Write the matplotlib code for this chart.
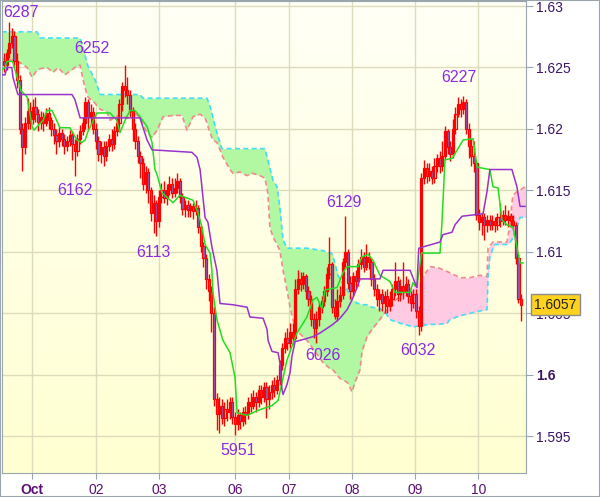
import numpy as np
import matplotlib.pyplot as plt
from matplotlib.patches import Rectangle

plt.rcParams['font.family'] = ['Liberation Sans', 'DejaVu Sans']

# hourly candles, values in pips above 1.6000
opens = [255, 252, 262, 270, 276, 255, 240, 200, 185, 205,
         215, 208, 218, 212, 206, 210, 205, 213, 207, 200,
         195, 190, 197, 192, 186, 190, 195, 188, 182, 192,
         198, 205, 222, 210, 214, 200, 190, 180, 185, 178,
         186, 192, 188, 198, 205, 220, 235, 232, 228, 215,
         200, 190, 178, 172, 155, 165, 150, 132, 140, 125,
         145, 150, 144, 150, 155, 148, 152, 158, 145, 135,
         138, 134, 137, 133, 136, 120, 105, 95, 78, 68,
         50, -20, -32, -25, -35, -28, -30, -22, -34, -40,
         -33, -38, -30, -32, -22, -25, -18, -22, -12, -18,
         -10, -20, -14, -8, -12, -4, 8, 22, 30, 26,
         35, 30, 70, 78, 74, 80, 68, 62, 45, 38,
         45, 55, 60, 68, 82, 90, 55, 48, 60, 65,
         92, 100, 75, 68, 80, 76, 90, 96, 88, 96,
         92, 78, 70, 62, 66, 58, 64, 56, 62, 70,
         76, 66, 72, 68, 74, 64, 58, 66, 52, 40,
         160, 168, 162, 166, 160, 170, 176, 170, 178, 198,
         185, 180, 200, 212, 220, 216, 222, 200, 186, 178,
         172, 130, 124, 128, 122, 126, 122, 125, 122, 128,
         125, 130, 126, 129, 125, 122, 95, 62]
highs = [262, 265, 287, 282, 280, 262, 244, 205, 210, 225,
         222, 224, 226, 216, 215, 214, 217, 218, 210, 205,
         200, 202, 200, 196, 194, 199, 198, 192, 196, 203,
         210, 226, 224, 220, 218, 205, 194, 190, 190, 190,
         196, 200, 202, 210, 224, 238, 252, 242, 232, 218,
         205, 194, 182, 176, 170, 168, 153, 146, 142, 150,
         156, 158, 155, 162, 160, 160, 164, 160, 148, 142,
         142, 140, 140, 142, 138, 122, 108, 98, 82, 72,
         55, -15, -18, -20, -22, -20, -18, -18, -30, -28,
         -30, -26, -25, -18, -15, -12, -14, -8, -8, -6,
         -6, -8, -4, -2, 0, 12, 26, 35, 38, 42,
         42, 78, 85, 84, 84, 82, 72, 65, 50, 52,
         58, 64, 72, 88, 112, 92, 62, 70, 72, 95,
         129, 102, 80, 84, 85, 94, 102, 100, 106, 100,
         95, 82, 74, 70, 70, 68, 70, 68, 74, 92,
         80, 78, 92, 80, 78, 68, 70, 70, 56, 164,
         175, 172, 172, 170, 176, 180, 182, 190, 202, 200,
         190, 208, 218, 226, 224, 227, 224, 205, 192, 190,
         175, 135, 132, 132, 130, 130, 130, 128, 132, 140,
         134, 138, 134, 132, 130, 124, 98, 66]
lows = [246, 248, 258, 266, 250, 233, 196, 166, 180, 200,
        200, 204, 206, 198, 200, 198, 202, 200, 194, 188,
        180, 185, 186, 180, 182, 186, 175, 162, 178, 188,
        195, 200, 200, 204, 196, 184, 174, 172, 170, 174,
        182, 182, 184, 194, 200, 215, 226, 220, 210, 190,
        184, 172, 160, 150, 148, 140, 125, 115, 113, 120,
        140, 140, 138, 146, 144, 145, 148, 140, 130, 128,
        128, 128, 127, 130, 115, 100, 88, 70, 60, 35,
        -25, -45, -47, -40, -42, -38, -36, -40, -49, -45,
        -44, -42, -40, -36, -30, -28, -30, -26, -24, -22,
        -35, -28, -20, -18, -16, -8, 4, 18, 20, 22,
        25, 28, 66, 68, 70, 62, 56, 40, 30, 26,
        40, 50, 56, 64, 78, 50, 45, 44, 55, 62,
        88, 70, 62, 64, 70, 72, 86, 84, 85, 86,
        72, 64, 56, 52, 52, 50, 50, 52, 56, 64,
        60, 60, 62, 64, 58, 52, 54, 46, 32, 36,
        155, 156, 158, 155, 156, 165, 164, 166, 175, 180,
        174, 176, 196, 210, 210, 212, 196, 176, 170, 165,
        126, 118, 114, 110, 116, 118, 118, 116, 118, 120,
        122, 122, 120, 120, 118, 90, 58, 44]
closes = [252, 262, 270, 276, 255, 240, 200, 185, 205, 215,
          208, 218, 212, 206, 210, 205, 213, 207, 200, 195,
          190, 197, 192, 186, 190, 195, 188, 182, 192, 198,
          205, 222, 210, 214, 200, 190, 180, 185, 178, 186,
          192, 188, 198, 205, 220, 235, 232, 228, 215, 200,
          190, 178, 172, 155, 165, 150, 132, 140, 125, 145,
          150, 144, 150, 155, 148, 152, 158, 145, 135, 138,
          134, 137, 133, 136, 120, 105, 95, 78, 68, 50,
          -20, -32, -25, -35, -28, -30, -22, -34, -40, -33,
          -38, -30, -32, -22, -25, -18, -22, -12, -18, -10,
          -20, -14, -8, -12, -4, 8, 22, 30, 26, 35,
          30, 70, 78, 74, 80, 68, 62, 45, 38, 45,
          55, 60, 68, 82, 90, 55, 48, 60, 65, 92,
          100, 75, 68, 80, 76, 90, 96, 88, 96, 92,
          78, 70, 62, 66, 58, 64, 56, 62, 70, 76,
          66, 72, 68, 74, 64, 58, 66, 52, 40, 160,
          168, 162, 166, 160, 170, 176, 170, 178, 198, 185,
          180, 200, 212, 220, 216, 222, 200, 186, 178, 172,
          130, 124, 128, 122, 126, 122, 125, 122, 128, 125,
          130, 126, 129, 125, 122, 95, 62, 57]

# tenkan (green) and kijun (purple) vertices: bar position, pips
tenkan_x = [-0.8, 0.4, 1.1, 3.0, 3.4, 6.5, 8.8, 10.7, 11.4, 14.9, 16.4, 18.3, 19.4, 21.3, 25.1,
            27.8, 29.7, 30.9, 32.0, 35.4, 40.4, 43.0, 44.2, 46.1, 48.0, 49.9, 51.8, 54.5, 56.4,
            57.5, 58.3, 60.2, 64.4, 67.0, 72.0, 73.9, 75.4, 76.6, 78.5, 79.2, 79.6, 81.1, 83.4,
            86.1, 88.0, 88.8, 92.6, 96.7, 102.1, 104.4, 107.8, 111.6, 115.4, 117.7, 119.2, 121.1,
            122.3, 126.9, 129.1, 130.7, 134.9, 136.4, 138.7, 140.6, 143.2, 147.0, 149.0, 154.7,
            155.8, 157.3, 159.0, 166.1, 166.9, 168.0, 170.7, 174.9, 178.7, 180.2, 182.5, 185.1,
            186.3, 188.2, 189.7, 191.6, 193.9, 196.6, 197.7]
tenkan_v = [248, 250, 255, 255, 254, 231, 226, 202, 199, 207, 215, 215, 210, 201, 201,
            191, 189, 191, 198, 213, 213, 207, 197, 207, 215, 215, 210, 202, 189,
            167, 163, 148, 140, 146, 142, 132, 120, 106, 99, 85, 67, 45, 28,
            18, -2, -31, -33, -29, -25, -21, 12, 34, 47, 61, 63, 54,
            69, 71, 83, 88, 88, 96, 98, 93, 81, 76, 67, 67,
            75, 71, 99, 99, 126, 175, 176, 191, 192, 169, 168, 167,
            153, 152, 126, 122, 120, 91, 91]
kijun_x = [-0.8, 0.4, 1.1, 3.0, 3.4, 5.3, 25.9, 27.0, 28.2, 29.0, 51.8, 54.5, 56.4, 71.6,
           73.5, 74.7, 76.6, 77.7, 79.2, 81.1, 82.3, 87.2, 92.6, 93.7, 98.7, 100.2, 100.6, 102.1,
           104.4, 105.1, 105.9, 106.3, 107.8, 109.0, 109.7, 110.9, 112.8, 117.7, 120.4, 125.3,
           128.0, 130.7, 132.6, 134.5, 135.6, 143.2, 144.4, 154.7, 155.8, 157.3, 158.0, 166.1,
           167.2, 170.7, 171.8, 174.5, 182.5, 184.0, 185.1, 193.5, 195.4, 196.6, 198.5]
kijun_v = [244, 244, 250, 250, 242, 228, 228, 224, 215, 209, 209, 191, 183, 181,
           177, 167, 128, 124, 104, 85, 58, 57, 55, 47, 46, 37, 28, 19,
           18, 10, -12, -16, -8, 2, 15, 27, 28, 31, 34, 41,
           46, 53, 61, 71, 78, 78, 85, 85, 79, 71, 103, 108,
           114, 116, 122, 129, 131, 149, 167, 167, 153, 137, 137]

# cloud edges read at shared positions
cloud_x = [-0.8, 0.4, 3.4, 6.1, 8.8, 10.7, 12.6, 13.7, 16.4, 18.7,
           20.6, 23.2, 24.4, 27.0, 29.0, 30.1, 31.6, 32.0, 34.7, 35.4,
           36.6, 39.2, 40.4, 43.4, 46.9, 48.8, 51.8, 52.9, 54.5, 56.4,
           58.3, 60.6, 64.4, 67.8, 69.7, 72.0, 74.7, 76.6, 77.3, 77.7,
           78.5, 79.2, 79.6, 81.1, 82.3, 83.0, 83.4, 86.1, 87.2, 89.9,
           92.6, 94.5, 97.5, 99.4, 100.5, 101.3, 102.5, 104.0, 105.1, 106.3,
           107.8, 109.0, 110.9, 113.9, 115.4, 118.5, 121.5, 124.7, 125.3, 127.2,
           128.0, 130.7, 131.0, 132.6, 133.7, 134.5, 135.6, 136.4, 138.3, 140.2,
           143.2, 145.5, 147.0, 148.2, 150.9, 155.8, 159.0, 162.3, 165.5, 168.8,
           169.9, 173.7, 177.5, 181.3, 184.0, 184.4, 185.1, 186.3, 187.0, 191.6,
           192.8, 193.5, 193.9, 195.4, 196.6, 198.9]
span_a = [258, 256, 256, 254, 250, 242, 248, 249, 250, 246,
          250, 244, 246, 250, 252, 240, 228, 226, 221, 219,
          216, 214, 207, 211, 209, 215, 209, 204, 197, 193,
          199, 210, 211, 211, 199, 210, 212, 209, 205, 202,
          197, 193, 191, 189, 183, 179, 177, 167, 164, 165,
          162, 164, 162, 160, 148, 120, 112, 106, 101, 85,
          69, 55, 37, 31, 28, 19, 10, 4, 4, -1,
          -3, -6, -7, -14, -6, -2, 4, 19, 31, 37,
          45, 52, 57, 59, 64, 71, 78, 88, 87, 84,
          83, 79, 79, 81, 80, 103, 105, 108, 108, 108,
          122, 140, 146, 149, 150, 154]
span_b = [279, 279, 279, 279, 279, 279, 279, 274, 274, 274,
          274, 274, 274, 274, 274, 266, 254, 251, 240, 236,
          228, 228, 228, 228, 228, 228, 228, 225, 225, 225,
          225, 225, 225, 225, 225, 225, 225, 225, 225, 223,
          218, 213, 209, 197, 189, 184, 184, 184, 184, 184,
          184, 184, 184, 184, 175, 168, 158, 153, 136, 110,
          103, 103, 103, 103, 103, 102, 101, 99, 97, 81,
          78, 69, 68, 61, 60, 58, 58, 57, 57, 55,
          54, 50, 45, 44, 42, 39, 40, 41, 41, 42,
          45, 48, 50, 52, 53, 80, 96, 103, 106, 106,
          108, 110, 112, 120, 128, 128]

# swing labels
label_text = ['6287', '6252', '6162', '6113', '6129', '5951', '6026', '6032', '6227']
label_x = [6.5, 33.5, 27.0, 57.1, 129.5, 89.1, 121.5, 157.7, 173.3]
label_y = [295.0, 265.8, 150.3, 99.1, 139.8, -62.0, 16.0, 19.4, 242.2]

day_ticks = [10.8, 35.2, 59.2, 88.0, 108.5, 132.7, 156.6, 180.7]
day_labels = ['Oct', '02', '03', '06', '07', '08', '09', '10']
last_price = 1.6057


def to_price(v):
    return np.array(v, dtype=float) / 10000 + 1.6


o = to_price(opens)
h = to_price(highs)
l = to_price(lows)
c = to_price(closes)
idx = np.arange(len(o))

fig = plt.figure(figsize=(6, 4.97), dpi=100)
ax = fig.add_axes([2 / 600, 24 / 497, 524 / 600, 472 / 497])
xmin, xmax = -0.76, 198.86
ymin, ymax = 1.59201, 1.63041

# background gradient
grad = np.linspace(0, 1, 256).reshape(-1, 1)
top = np.array([1.0, 1.0, 0.965])
bot = np.array([1.0, 1.0, 0.82])
img = top + (bot - top) * grad[:, :, None]
ax.imshow(img, extent=[xmin, xmax, ymin, ymax], aspect='auto', origin='upper', zorder=0)
ax.set_axisbelow(True)
ax.grid(color='#dcdcbc', lw=1)

# cloud
ca = to_price(span_a)
cb = to_price(span_b)
ax.fill_between(cloud_x, ca, cb, where=cb >= ca, interpolate=True, color='#b2f7a2', lw=0, zorder=1)
ax.fill_between(cloud_x, ca, cb, where=ca > cb, interpolate=True, color='#ffcbe3', lw=0, zorder=1)
ax.plot(cloud_x, cb, color='#3fe0f2', lw=1.2, ls=(0, (3, 2)), zorder=2)
ax.plot(cloud_x, ca, color='#f08a8a', lw=1.2, ls=(0, (3, 2)), zorder=2)

# candles
ax.vlines(idx, l, h, color='#ff0000', lw=1, zorder=3)
bear = c < o
bottoms = np.minimum(o, c)
heights = np.maximum(np.abs(c - o), 0.00003)
fills = np.where(bear, '#7a66c6', 'none')
ax.bar(idx, heights, bottom=bottoms, width=0.8, color=list(fills),
       edgecolor='#ff0000', lw=0.9, zorder=3)

# tenkan / kijun
ax.plot(tenkan_x, to_price(tenkan_v), color='#22dd22', lw=1.1, zorder=4)
ax.plot(kijun_x, to_price(kijun_v), color='#9932cc', lw=1.1, zorder=4)

for t, x, y in zip(label_text, label_x, to_price(label_y)):
    ax.text(x, y, t, color='#8a2be2', fontsize=11.5, ha='center', va='center', zorder=5)

ax.set_xlim(xmin, xmax)
ax.set_ylim(ymin, ymax)

yt = [1.595, 1.6, 1.605, 1.61, 1.615, 1.62, 1.625, 1.63]
ax.yaxis.tick_right()
ax.set_yticks(yt)
ax.set_yticklabels(['1.595', '1.6', '1.605', '1.61', '1.615', '1.62', '1.625', '1.63'])
ax.set_xticks(day_ticks)
ax.set_xticklabels(day_labels)
ax.tick_params(axis='y', colors='#9aa4ac', labelcolor='#3b1466', labelsize=10, length=5, pad=2)
ax.tick_params(axis='x', colors='#9aa4ac', labelcolor='#5a1070', labelsize=10, length=4, pad=3)
ax.get_yticklabels()[1].set_fontweight('bold')
ax.get_xticklabels()[0].set_fontweight('bold')
for s in ax.spines.values():
    s.set_color('#9aa4ac')

# last price box (covers the 1.605 label as in the source)
ax.text(1.0563, last_price, '{:.4f}'.format(last_price), transform=ax.get_yaxis_transform(),
        ha='center', va='center', fontsize=10, color='#222222', zorder=10, clip_on=False,
        bbox=dict(boxstyle='square,pad=0.25', fc='#ffd21e', ec='#8c8c8c', lw=1))

fig.patches.append(Rectangle((0, 0), 1, 1, transform=fig.transFigure, fill=False,
                             edgecolor='#9aa4ac', lw=1.5))

fig.savefig('out.png', dpi=100)
